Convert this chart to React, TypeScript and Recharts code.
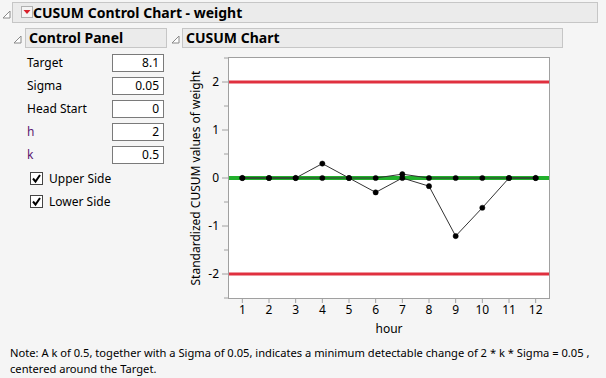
import React from "react";
import { LineChart, Line, XAxis, YAxis, ReferenceLine } from "recharts";

const hours = [1, 2, 3, 4, 5, 6, 7, 8, 9, 10, 11, 12];
const upperCusum = [0, 0, 0, 0.3, 0, 0, 0.08, 0, 0, 0, 0, 0];
const lowerCusum = [0, 0, 0, 0, 0, -0.3, 0, -0.17, -1.21, -0.62, 0, 0];
const hValue = 2;
const centerValue = 0;
const yTicks = [-2.5, -2, -1.5, -1, -0.5, 0, 0.5, 1, 1.5, 2, 2.5];
const xDomain = [0.5, 12.5];
const yDomain = [-2.5, 2.5];

const panelLabels = ["Target", "Sigma", "Head Start", "h", "k"];
const panelValues = ["8.1", "0.05", "0", "2", "0.5"];
const panelLabelColors = ["#000", "#000", "#000", "#5a1670", "#5a1670"];
const checkLabels = ["Upper Side", "Lower Side"];

const data = hours.map((h, i) => ({ hour: h, upper: upperCusum[i], lower: lowerCusum[i] }));

const FONT = '"Noto Sans", "Open Sans", sans-serif';
const BG = "#f5f5f5";
const FRAME = "#a0a0a0";

function Disclosure({ left, top }: { left: number; top: number }) {
  return (
    <svg style={{ position: "absolute", left, top }} width={9} height={9}>
      <polygon points="8,1 8,8 1,8" fill="#fff" stroke="#8a8a8a" strokeWidth={1} />
    </svg>
  );
}

function Header({ left, top, width, text, size }: { left: number; top: number; width: number; text: string; size: number }) {
  return (
    <div
      style={{
        position: "absolute",
        left,
        top,
        width,
        height: 20,
        background: "#ebebeb",
        border: "1px solid #c6c6c6",
        boxSizing: "border-box",
      }}
    >
      <div
        style={{
          position: "absolute",
          left: 3,
          top: 0,
          lineHeight: "18px",
          fontWeight: 700,
          fontSize: size,
          color: "#000",
          whiteSpace: "nowrap",
        }}
      >
        {text}
      </div>
    </div>
  );
}

const YTick = (props: any) => {
  const { x, y, payload } = props;
  const axisX = x + 10;
  const v = payload.value;
  const major = Number.isInteger(v);
  return (
    <g>
      <line x1={axisX - (major ? 7 : 5)} x2={axisX} y1={y} y2={y} stroke={FRAME} strokeWidth={1} />
      {major && (
        <text x={axisX - 10} y={y} dy={4} textAnchor="end" fontSize={12} fill="#000" fontFamily={FONT}>
          {v}
        </text>
      )}
    </g>
  );
};

export default function App() {
  return (
    <div
      style={{
        position: "absolute",
        left: 0,
        top: 0,
        width: 606,
        height: 378,
        background: BG,
        fontFamily: FONT,
        overflow: "hidden",
      }}
    >
      {/* Title bar */}
      <Disclosure left={2} top={10} />
      <div
        style={{
          position: "absolute",
          left: 12,
          top: 2,
          width: 586,
          height: 21,
          background: "#ebebeb",
          border: "1px solid #c6c6c6",
          boxSizing: "border-box",
        }}
      />
      <svg style={{ position: "absolute", left: 21, top: 6 }} width={12} height={12}>
        <rect x={0.5} y={0.5} width={11} height={11} fill="#f4f4f4" stroke="#b0b0b0" />
        <polygon points="2.5,4 9.5,4 6,8" fill="#d8212b" />
      </svg>
      <div
        style={{
          position: "absolute",
          left: 33,
          top: 2,
          lineHeight: "21px",
          fontWeight: 700,
          fontSize: 14,
          whiteSpace: "nowrap",
        }}
      >
        CUSUM Control Chart - weight
      </div>

      {/* Control panel */}
      <Disclosure left={13} top={35} />
      <Header left={25} top={28} width={142} text="Control Panel" size={14} />
      {panelLabels.map((lab, i) => (
        <React.Fragment key={lab}>
          <div
            style={{
              position: "absolute",
              left: 27,
              top: 54 + i * 23,
              lineHeight: "17px",
              fontSize: 12,
              color: panelLabelColors[i],
            }}
          >
            {lab}
          </div>
          <div
            style={{
              position: "absolute",
              left: 112,
              top: 54 + i * 23,
              width: 52,
              height: 18,
              background: "#fff",
              border: "1px solid #7a7a7a",
              boxSizing: "border-box",
              textAlign: "right",
              paddingRight: 4,
              lineHeight: "16px",
              fontSize: 12,
            }}
          >
            {panelValues[i]}
          </div>
        </React.Fragment>
      ))}
      {checkLabels.map((lab, i) => (
        <React.Fragment key={lab}>
          <svg style={{ position: "absolute", left: 30, top: 172 + i * 23 }} width={13} height={13}>
            <rect x={0.5} y={0.5} width={12} height={12} fill="#fff" stroke="#444" />
            <polyline points="3,6.5 5.5,9.5 10,3" fill="none" stroke="#000" strokeWidth={2} />
          </svg>
          <div
            style={{
              position: "absolute",
              left: 49,
              top: 170 + i * 23,
              lineHeight: "17px",
              fontSize: 12,
            }}
          >
            {lab}
          </div>
        </React.Fragment>
      ))}

      {/* CUSUM chart header */}
      <Disclosure left={171} top={35} />
      <Header left={182} top={28} width={381} text="CUSUM Chart" size={14} />

      {/* Plot frame panel */}
      <div
        style={{
          position: "absolute",
          left: 228,
          top: 57,
          width: 322,
          height: 242,
          background: "#fff",
          border: `1px solid ${FRAME}`,
          boxSizing: "border-box",
        }}
      />

      {/* Chart */}
      <div style={{ position: "absolute", left: 0, top: 0 }}>
        <LineChart
          width={606}
          height={378}
          data={data}
          margin={{ top: 58, right: 57, bottom: 40, left: 179 }}
        >
          <ReferenceLine y={hValue} stroke="#e0303f" strokeWidth={3} />
          <ReferenceLine y={-hValue} stroke="#e0303f" strokeWidth={3} />
          <ReferenceLine y={centerValue} stroke="#22b02c" strokeWidth={4} />
          <XAxis
            dataKey="hour"
            type="number"
            domain={xDomain}
            allowDataOverflow
            ticks={hours}
            interval={0}
            height={40}
            tickSize={5}
            tickMargin={2}
            axisLine={false}
            tickLine={{ stroke: FRAME }}
            tick={{ fill: "#000", fontSize: 12, fontFamily: FONT }}
            label={{ value: "hour", position: "center", dy: 11, fill: "#000", fontSize: 12, fontFamily: FONT }}
          />
          <YAxis
            type="number"
            domain={yDomain}
            allowDataOverflow
            ticks={yTicks}
            interval={0}
            width={50}
            tickSize={7}
            tickMargin={3}
            tickLine={false}
            axisLine={false}
            tick={<YTick />}
            label={{
              value: "Standardized CUSUM values of weight",
              angle: -90,
              position: "center",
              dx: -8,
              fill: "#000",
              fontSize: 12,
              fontFamily: FONT,
            }}
          />
          <Line
            dataKey="upper"
            stroke="#333"
            strokeWidth={1}
            dot={{ r: 2.6, fill: "#000", stroke: "#000", strokeWidth: 0.5 }}
            isAnimationActive={false}
          />
          <Line
            dataKey="lower"
            stroke="#333"
            strokeWidth={1}
            dot={{ r: 2.6, fill: "#000", stroke: "#000", strokeWidth: 0.5 }}
            isAnimationActive={false}
          />
        </LineChart>
      </div>

      {/* Note */}
      <div
        style={{
          position: "absolute",
          left: 10,
          top: 345,
          fontSize: 11.15,
          lineHeight: "16px",
          whiteSpace: "nowrap",
        }}
      >
        <div>
          Note: A k of 0.5, together with a Sigma of 0.05, indicates a minimum detectable change of 2 * k * Sigma = 0.05 ,
        </div>
        <div>centered around the Target.</div>
      </div>
    </div>
  );
}
